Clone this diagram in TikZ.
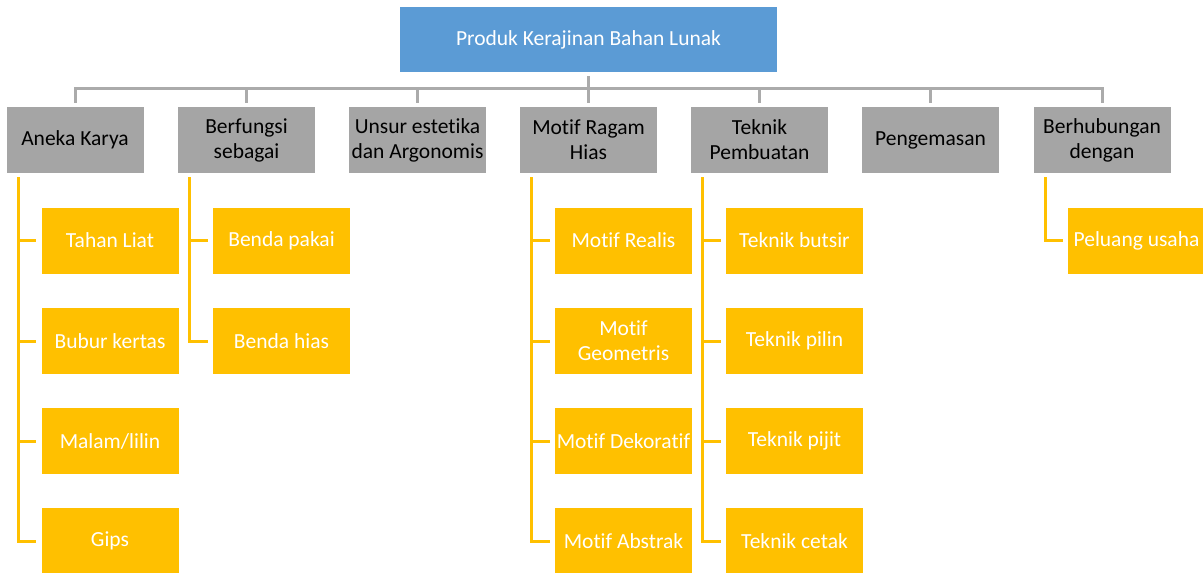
\documentclass[tikz,border=0pt]{standalone}
\usepackage{fontspec}
\setmainfont{Carlito}[Ligatures=NoCommon]
\definecolor{cblue}{HTML}{5B9BD5}
\definecolor{cgray}{HTML}{A5A5A5}
\definecolor{cyel}{HTML}{FFC000}
\definecolor{cline}{HTML}{ABABAB}
\begin{document}
\begin{tikzpicture}[x=1pt,y=-1pt,
  box/.style={rectangle,minimum width=137pt,minimum height=66pt,inner sep=0pt,align=center,
    font=\fontsize{21.5}{25}\selectfont},
  topbox/.style={box,fill=cblue,text=white,minimum width=377pt,minimum height=65pt},
  catbox/.style={box,fill=cgray,text=black},
  itembox/.style={box,fill=cyel,text=white},
  gline/.style={draw=cline,line width=3pt},
  yline/.style={draw=cyel,line width=3pt}]
\useasboundingbox (0,0) rectangle (1203,573);
\node[topbox] (top) at (588.5,39.5) {Produk Kerajinan Bahan Lunak};
\node[catbox] (g1) at (75,140) {Aneka Karya};
\node[catbox] (g2) at (246.5,140) {Berfungsi\\sebagai};
\node[catbox] (g3) at (417.5,140) {Unsur estetika\\dan Argonomis};
\node[catbox] (g4) at (588.5,140) {Motif Ragam\\Hias};
\node[catbox] (g5) at (759.5,140) {Teknik\\Pembuatan};
\node[catbox] (g6) at (930.5,140) {Pengemasan};
\node[catbox] (g7) at (1102,140) {Berhubungan\\dengan};
\coordinate (bus) at (0,88);
% yellow items
\node[itembox] (a1) at (110,240.5) {Tahan Liat};
\node[itembox] (a2) at (110,341) {Bubur kertas};
\node[itembox] (a3) at (110,441) {Malam/lilin};
\node[itembox] (a4) at (110,541) {Gips};
\node[itembox] (b1) at (281.5,240.5) {Benda pakai};
\node[itembox] (b2) at (281.5,341) {Benda hias};
\node[itembox] (d1) at (623.5,240.5) {Motif Realis};
\node[itembox] (d2) at (623.5,341) {Motif\\Geometris};
\node[itembox] (d3) at (623.5,441) {Motif Dekoratif};
\node[itembox] (d4) at (623.5,541) {Motif Abstrak};
\node[itembox] (e1) at (794.5,240.5) {Teknik butsir};
\node[itembox] (e2) at (794.5,341) {Teknik pilin};
\node[itembox] (e3) at (794.5,441) {Teknik pijit};
\node[itembox] (e4) at (794.5,541) {Teknik cetak};
\node[itembox] (f1) at (1136.5,240.5) {Peluang usaha};
% gray connectors
\draw[gline,shorten <=4pt] (top.south) -- (top.south |- bus);
\draw[gline,line cap=rect] (g1.north |- bus) -- (g7.north |- bus);
\foreach \g in {g1,g2,g3,g4,g5,g6,g7}{
  \draw[gline,shorten <=4pt] (\g.north) -- (\g.north |- bus);
}
% yellow connectors
\foreach \g/\last/\items in {g1/a4/{a1,a2,a3},g2/b2/{b1},g4/d4/{d1,d2,d3},g5/e4/{e1,e2,e3}}{
  \draw[yline] ([xshift=12pt,yshift=-4pt]\g.south west) |- ([xshift=-5pt]\last.west);
  \foreach \i in \items {
    \draw[yline] ([xshift=12pt]\g.south west |- \i.west) -- ([xshift=-5pt]\i.west);
  }
}
\draw[yline] ([xshift=12pt,yshift=-4pt]g7.south west) |- ([xshift=-5pt]f1.west);
\end{tikzpicture}
\end{document}
